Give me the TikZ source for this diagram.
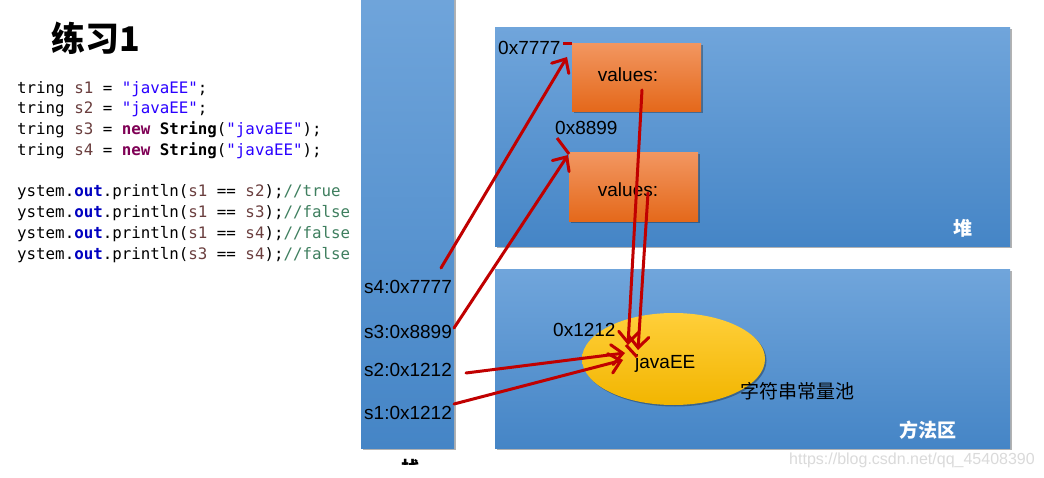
\documentclass[tikz,border=0pt]{standalone}
\usepackage{fontspec}
\setmainfont{Liberation Sans}
\setmonofont{DejaVu Sans Mono}
\newfontfamily\cjk{Noto Sans CJK SC}
\usetikzlibrary{arrows.meta,shapes.geometric,shadows}

\definecolor{areatop}{HTML}{70A5DB}
\definecolor{areabot}{HTML}{4585C6}
\definecolor{objtop}{HTML}{F29660}
\definecolor{objbot}{HTML}{E4681A}
\definecolor{pooltop}{HTML}{FFCF3A}
\definecolor{poolbot}{HTML}{F2B500}
\definecolor{refred}{HTML}{C00000}
\definecolor{jvar}{HTML}{6A3E3E}
\definecolor{jstr}{HTML}{2A00FF}
\definecolor{jkw}{HTML}{7F0055}
\definecolor{jfld}{HTML}{0000C0}
\definecolor{jcom}{HTML}{3F7F5F}
\definecolor{wmark}{HTML}{DADADA}

% syntax colouring helpers for the listing
\newcommand\jv[1]{\textcolor{jvar}{#1}}
\newcommand\js[1]{\textcolor{jstr}{#1}}
\newcommand\jk[1]{\textcolor{jkw}{\bfseries #1}}
\newcommand\jf[1]{\textcolor{jfld}{\bfseries #1}}
\newcommand\jc[1]{\textcolor{jcom}{#1}}

\begin{document}
\begin{tikzpicture}[x=1pt,y=-1pt,
  area/.style={draw=none, inner sep=0pt, top color=areatop, bottom color=areabot,
    drop shadow={shadow xshift=1.5pt, shadow yshift=-1.5pt, opacity=.3, fill=black}},
  objbox/.style={draw=none, inner sep=0pt, top color=objtop, bottom color=objbot,
    minimum height=68pt,
    drop shadow={shadow xshift=1.5pt, shadow yshift=-1.5pt, opacity=.3, fill=black}},
  pool/.style={ellipse, draw=none, inner sep=0pt, top color=pooltop, bottom color=poolbot,
    minimum width=183pt, minimum height=92pt,
    drop shadow={shadow xshift=1.5pt, shadow yshift=-1.5pt, opacity=.3, fill=black}},
  lbl/.style={inner sep=0pt, font=\fontsize{19}{22}\selectfont},
  code/.style={inner sep=0pt, anchor=base west, font=\ttfamily\fontsize{15.8}{19}\selectfont},
  areaname/.style={inner sep=0pt, text=white, font=\cjk\bfseries\fontsize{19}{22}\selectfont},
  ref/.style={draw=refred, line width=3pt, line cap=round,
    -{Straight Barb[length=11pt,width=20pt,line cap=round]}},
  tick/.style={draw=refred, line width=3pt}
]
\useasboundingbox[fill=white] (0,0) rectangle (1044,478);

% title and Java listing
\node[inner sep=0pt, font=\cjk\bfseries\fontsize{34}{38}\selectfont] (title) at (96,38) {练习1};
\node[code] (c1) at (17,93.5)  {tring \jv{s1} = \js{"javaEE"};};
\node[code] (c2) at (17,113.5) {tring \jv{s2} = \js{"javaEE"};};
\node[code] (c3) at (17,134.5) {tring \jv{s3} = \jk{new} \textbf{String}(\js{"javaEE"});};
\node[code] (c4) at (17,155.5) {tring \jv{s4} = \jk{new} \textbf{String}(\js{"javaEE"});};
\node[code] (c5) at (17,196.5) {ystem.\jf{out}.println(\jv{s1} == \jv{s2});\jc{//true}};
\node[code] (c6) at (17,217.5) {ystem.\jf{out}.println(\jv{s1} == \jv{s3});\jc{//false}};
\node[code] (c7) at (17,238.5) {ystem.\jf{out}.println(\jv{s1} == \jv{s4});\jc{//false}};
\node[code] (c8) at (17,259.5) {ystem.\jf{out}.println(\jv{s3} == \jv{s4});\jc{//false}};

% memory areas
\node[area, minimum width=93pt, minimum height=460pt] (stack) at (407.5,218) {};
\node[area, minimum width=515pt, minimum height=219pt] (heap) at (752.5,137) {};
\node[area, minimum width=515pt, minimum height=178pt] (method) at (752.5,359) {};
\node[areaname] (heapname) at (963,228) {堆};
\node[areaname] (methodname) at (928,430) {方法区};
\begin{scope}
  \clip (360,440) rectangle (460,464);
  \node[areaname, text=black] (stackname) at (411,468) {栈};
\end{scope}

% heap objects
\node[objbox, minimum width=129pt] (obj1) at (636.5,77.5) {};
\node[objbox, minimum width=129pt, minimum height=69pt] (obj2) at (633.5,187.5) {};
\node[lbl] (val1) at (628,75) {values:};
\node[lbl] (val2) at (628,190) {values:};
\node[lbl, anchor=base west] (a7777) at (498,55) {0x7777};
\node[lbl, anchor=base west] (a8899) at (555,135) {0x8899};

% string constant pool
\node[pool] (pool) at (673.5,359) {};
\node[lbl, anchor=base west] (javaee) at (635,368) {javaEE};
\node[lbl, anchor=base west] (a1212) at (553,337) {0x1212};
\node[lbl, anchor=base west, font=\cjk\fontsize{19}{22}\selectfont] (poolname) at (740,398) {字符串常量池};

% stack variables
\node[lbl, anchor=base west] (s4) at (364,294) {s4:0x7777};
\node[lbl, anchor=base west] (s3) at (364,338) {s3:0x8899};
\node[lbl, anchor=base west] (s2) at (364,376) {s2:0x1212};
\node[lbl, anchor=base west] (s1) at (364,419) {s1:0x1212};

% reference end points
\coordinate (s4out) at (441,268);
\coordinate (s3out) at (454,328);
\coordinate (s2out) at (466,373);
\coordinate (s1out) at (454,404);
\coordinate (obj1in) at (567,57);
\coordinate (obj2in) at (568,155);
\coordinate (val1out) at (642,90);
\coordinate (val2out) at (648,193);
\coordinate (poolin1) at (628,345);
\coordinate (poolin2) at (638,350);
\coordinate (poolin3) at (625,353);
\coordinate (poolin4) at (623,360);

% references
\draw[ref] (s4out) -- (obj1in);
\draw[ref] (s3out) -- (obj2in);
\draw[ref] (val1out) -- (poolin1);
\draw[ref] (val2out) -- (poolin2);
\draw[ref] (s2out) -- (poolin3);
\draw[ref] (s1out) -- (poolin4);
\draw[tick] (563,44) -- (572,44);
\draw[tick] (557,138) -- (569,154);
\draw[tick] (626,345) -- (637,357);

% watermark
\node[inner sep=0pt, text=wmark, font=\fontsize{16}{18}\selectfont] (wm) at (912,460) {https://blog.csdn.net/qq\_45408390};
\end{tikzpicture}
\end{document}
